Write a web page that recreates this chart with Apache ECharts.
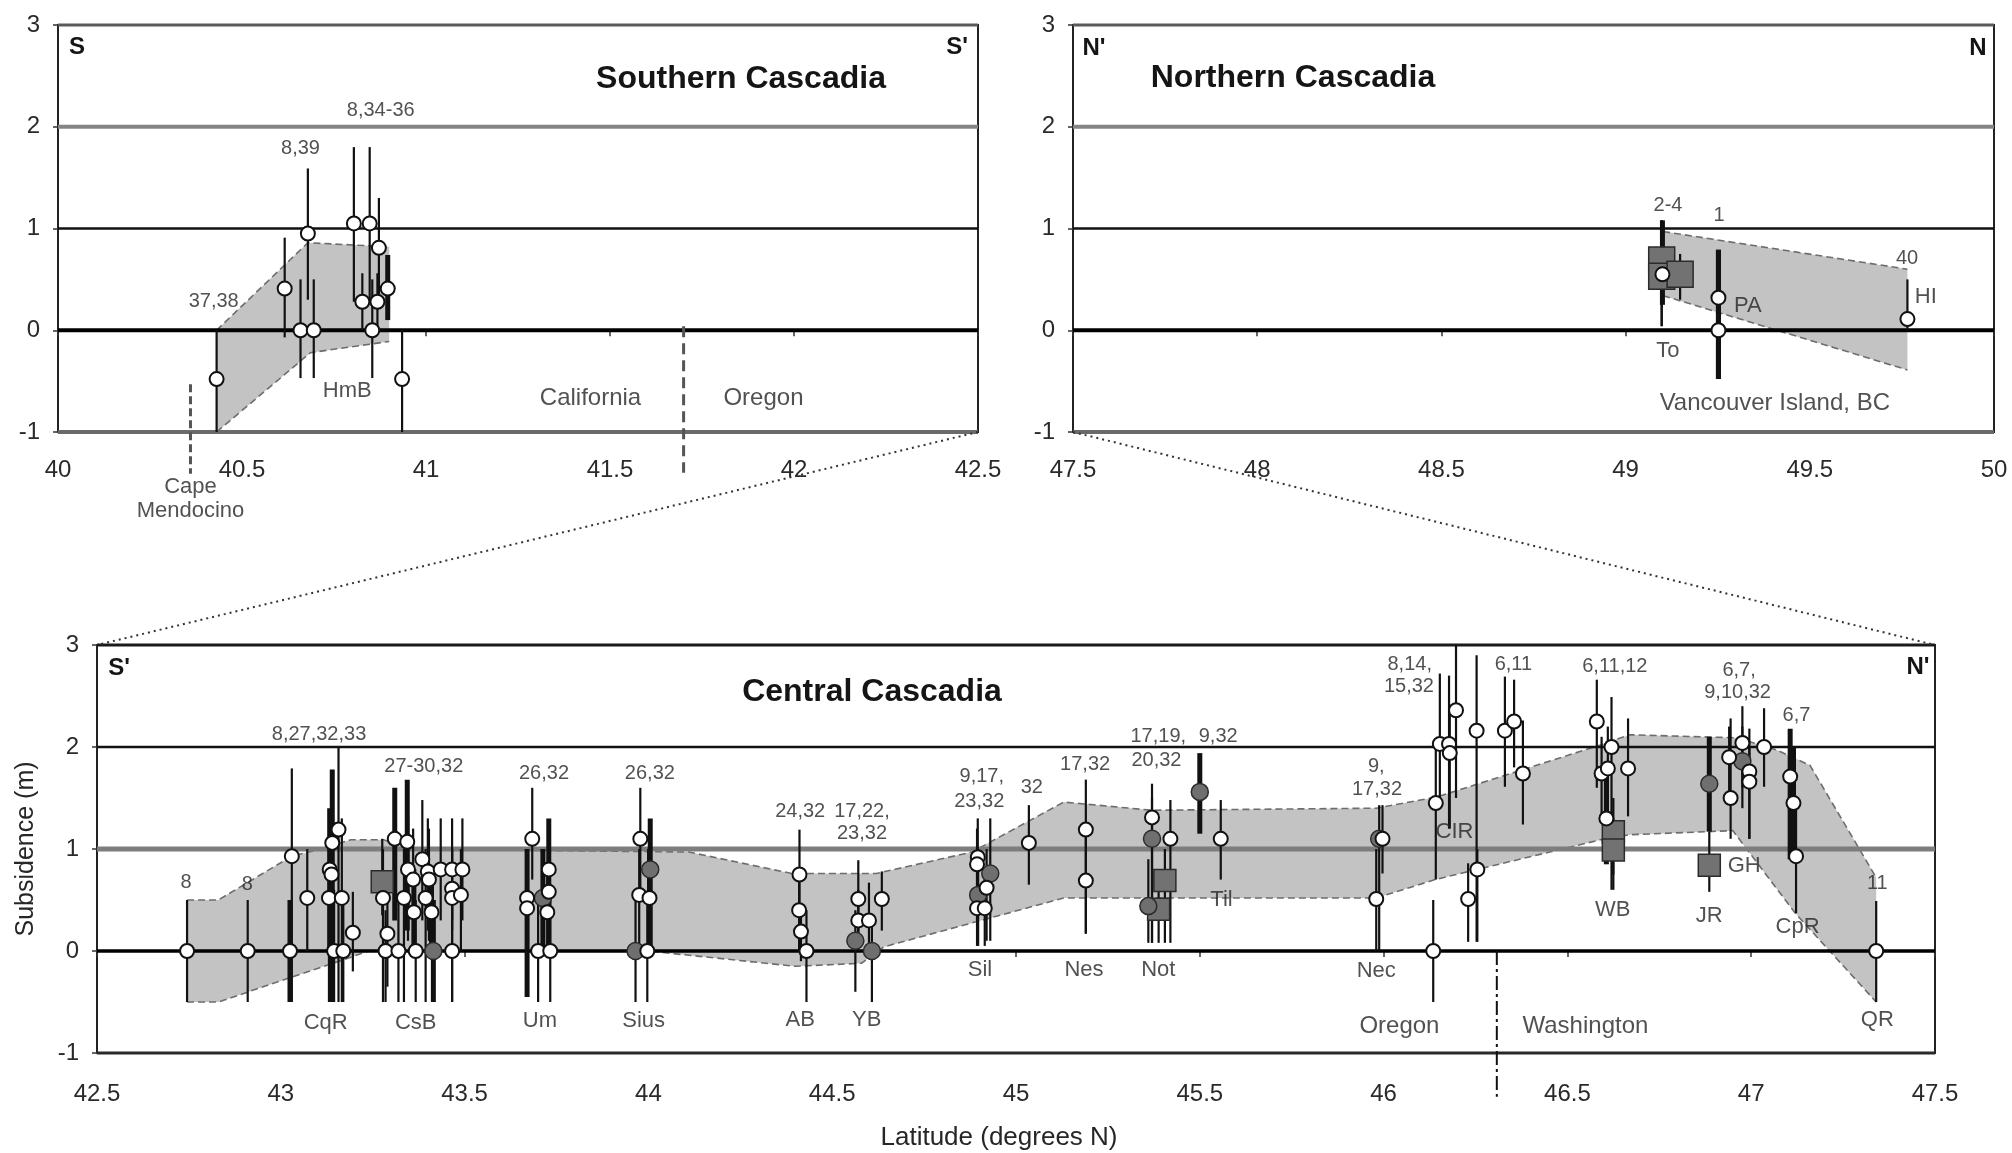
<!DOCTYPE html>
<html>
<head>
<meta charset="utf-8">
<title>Cascadia subsidence</title>
<script src="https://cdn.jsdelivr.net/npm/echarts@6/dist/echarts.min.js"></script>
<style>
  html, body { margin: 0; padding: 0; background: #fff; }
  #chart { width: 2012px; height: 1153px; }
</style>
</head>
<body>
<div id="chart"></div>
<script>
// ---------------- data ----------------
// Site estimates: [latitude, subsidence (m), low, high, marker, heavy bar]
// marker: 'o' open circle, 'g' grey circle, 's' grey square

// Southern Cascadia (S - S')
const southPoints = [
  [40.431, -0.48, -1.0, 0.0, 'o', 0],
  [40.616, 0.41, -0.07, 0.91, 'o', 0],
  [40.679, 0.95, 0.3, 1.59, 'o', 0],
  [40.659, 0.0, -0.47, 0.5, 'o', 0],
  [40.695, 0.0, -0.47, 0.5, 'o', 0],
  [40.804, 1.05, 0.28, 1.8, 'o', 0],
  [40.847, 1.05, 0.3, 1.8, 'o', 0],
  [40.872, 0.81, 0.3, 1.3, 'o', 0],
  [40.827, 0.28, 0.0, 0.56, 'o', 0],
  [40.868, 0.28, 0.0, 0.56, 'o', 0],
  [40.854, 0.0, -0.47, 0.5, 'o', 0],
  [40.896, 0.41, 0.1, 0.74, 'o', 1],
  [40.935, -0.48, -1.0, 0.0, 'o', 0]
];
const southUpper = [[40.431, 0.0], [40.679, 0.86], [40.9, 0.82]];
const southLower = [[40.431, -1.0], [40.686, -0.22], [40.9, -0.11]];
const southRefs = [['37,38', 40.423, 0.28], ['8,39', 40.659, 1.79], ['8,34-36', 40.877, 2.16]];
const southSites = [['HmB', 40.786, -0.60], ['Cape', 40.36, -1.54], ['Mendocino', 40.36, -1.78]];
const southPlaces = [['California', 41.447, -0.67], ['Oregon', 41.917, -0.67]];
// [latitude, top, bottom, kind]
const southMarks = [[41.70, 0.04, -1.40, 'state'], [40.36, -0.53, -1.41, 'cape']];

// Northern Cascadia (N' - N)
const northPoints = [
  [49.098, 0.69, 0.04, 1.08, 's', 0],
  [49.098, 0.53, 0.04, 1.08, 's', 0],
  [49.148, 0.55, 0.3, 0.75, 's', 0],
  [49.100, 0.55, 0.25, 1.08, 'o', 1],
  [49.252, 0.32, -0.48, 0.79, 'o', 1],
  [49.252, 0.0, -0.48, 0.79, 'o', 1],
  [49.765, 0.11, 0.0, 0.50, 'o', 0]
];
const northUpper = [[49.102, 0.97], [49.765, 0.60]];
const northLower = [[49.102, 0.34], [49.765, -0.39]];
const northRefs = [['2-4', 49.115, 1.23], ['1', 49.254, 1.13], ['40', 49.764, 0.71]];
const northSites = [['HI', 49.815, 0.33], ['PA', 49.332, 0.24], ['To', 49.115, -0.20]];
const northPlaces = [['Vancouver Island, BC', 49.405, -0.72]];
const northMarks = [];

// Central Cascadia (S' - N')
const centralPoints = [
  [42.745, 0.0, -0.5, 0.5, 'o', 0],
  [42.910, 0.0, -0.5, 0.5, 'o', 0],
  [43.030, 0.93, -0.5, 1.79, 'o', 0],
  [43.025, 0.0, -0.5, 0.5, 'o', 1],
  [43.072, 0.52, 0.0, 1.0, 'o', 0],
  // CqR
  [43.131, 0.52, -0.5, 1.0, 'o', 0],
  [43.133, 0.80, 0.0, 1.4, 'o', 1],
  [43.138, 0.75, 0.3, 1.2, 'o', 0],
  [43.140, 1.06, -0.5, 1.78, 'o', 1],
  [43.157, 1.19, -0.5, 2.0, 'o', 0],
  [43.166, 0.52, -0.5, 1.3, 'o', 0],
  [43.145, 0.0, -0.5, 0.6, 'o', 0],
  [43.170, 0.0, -0.5, 0.5, 'o', 0],
  [43.196, 0.18, -0.2, 0.58, 'o', 0],
  // CsB
  [43.276, 0.68, 0.35, 1.1, 's', 0],
  [43.278, 0.52, -0.5, 1.0, 'o', 0],
  [43.290, 0.17, -0.35, 0.5, 'o', 0],
  [43.285, 0.0, -0.5, 0.4, 'o', 0],
  [43.310, 1.10, 0.3, 1.6, 'o', 1],
  [43.320, 0.0, -0.5, 0.5, 'o', 0],
  [43.344, 1.07, 0.2, 1.68, 'o', 1],
  [43.346, 0.80, 0.1, 1.3, 'o', 0],
  [43.360, 0.70, 0.0, 1.2, 'o', 0],
  [43.335, 0.52, -0.5, 1.0, 'o', 0],
  [43.362, 0.38, 0.0, 0.8, 'o', 1],
  [43.367, 0.0, -0.5, 0.5, 'o', 0],
  [43.385, 0.90, 0.3, 1.48, 'o', 0],
  [43.400, 0.78, 0.2, 1.3, 'o', 0],
  [43.403, 0.70, 0.1, 1.2, 'o', 0],
  [43.394, 0.52, -0.5, 1.0, 'o', 0],
  [43.410, 0.38, 0.0, 0.8, 'o', 1],
  [43.415, 0.0, -0.5, 0.5, 'g', 1],
  [43.435, 0.80, 0.3, 1.3, 'o', 0],
  [43.466, 0.80, 0.3, 1.3, 'o', 0],
  [43.494, 0.80, 0.3, 1.3, 'o', 0],
  [43.466, 0.61, 0.2, 1.0, 'o', 0],
  [43.466, 0.52, -0.5, 1.0, 'o', 0],
  [43.466, 0.0, -0.5, 0.5, 'o', 0],
  [43.490, 0.55, 0.0, 1.0, 'o', 0],
  // Um
  [43.684, 1.10, 0.7, 1.6, 'o', 0],
  [43.670, 0.52, -0.45, 1.0, 'o', 1],
  [43.670, 0.42, -0.45, 1.0, 'o', 0],
  [43.729, 0.80, 0.0, 1.3, 'o', 1],
  [43.713, 0.52, 0.0, 1.0, 'g', 1],
  [43.729, 0.58, 0.0, 1.0, 'o', 0],
  [43.725, 0.38, 0.0, 0.8, 'o', 0],
  [43.700, 0.0, -0.5, 0.5, 'o', 0],
  [43.733, 0.0, -0.5, 0.5, 'o', 0],
  // Sius
  [43.978, 1.10, 0.5, 1.6, 'o', 0],
  [44.005, 0.80, 0.0, 1.3, 'g', 1],
  [43.975, 0.55, 0.0, 1.0, 'o', 0],
  [44.003, 0.52, 0.0, 1.0, 'o', 1],
  [43.965, 0.0, -0.5, 0.5, 'g', 0],
  [43.997, 0.0, -0.5, 0.5, 'o', 0],
  // AB
  [44.411, 0.75, 0.4, 1.19, 'o', 0],
  [44.410, 0.40, 0.0, 0.75, 'o', 0],
  [44.415, 0.19, -0.1, 0.4, 'o', 0],
  [44.430, 0.0, -0.5, 0.4, 'o', 0],
  // YB
  [44.571, 0.51, 0.1, 0.89, 'o', 0],
  [44.571, 0.30, 0.0, 0.6, 'o', 0],
  [44.563, 0.10, -0.4, 0.4, 'g', 0],
  [44.600, 0.30, 0.0, 0.67, 'o', 0],
  [44.608, 0.0, -0.5, 0.3, 'g', 0],
  [44.635, 0.51, 0.2, 0.78, 'o', 0],
  // Sil
  [44.896, 0.92, 0.4, 1.3, 'o', 0],
  [44.894, 0.85, 0.3, 1.2, 'o', 0],
  [44.930, 0.76, 0.1, 1.3, 'g', 0],
  [44.920, 0.62, 0.1, 1.0, 'o', 0],
  [44.897, 0.55, 0.05, 1.0, 'g', 0],
  [44.894, 0.42, 0.05, 0.8, 'o', 0],
  [44.915, 0.42, 0.05, 0.8, 'o', 0],
  [45.035, 1.06, 0.65, 1.43, 'o', 0],
  // Nes
  [45.190, 1.19, 0.17, 1.68, 'o', 0],
  [45.190, 0.69, 0.17, 1.2, 'o', 0],
  // Not
  [45.370, 1.31, 0.08, 1.64, 'o', 0],
  [45.370, 1.10, 0.08, 1.5, 'g', 0],
  [45.420, 1.10, 0.08, 1.48, 'o', 0],
  [45.405, 0.69, 0.08, 1.0, 's', 0],
  [45.388, 0.41, 0.08, 0.8, 's', 0],
  [45.360, 0.44, 0.08, 0.9, 'g', 0],
  [45.500, 1.56, 1.15, 1.94, 'g', 1],
  // Til
  [45.557, 1.10, 0.70, 1.48, 'o', 0],
  // Nec
  [45.997, 1.10, 0.76, 1.43, 'o', 0],
  [45.988, 1.10, 0.0, 1.43, 'g', 0],
  [45.980, 0.51, 0.0, 1.0, 'o', 0],
  [46.135, 0.0, -0.5, 0.5, 'o', 0],
  [46.142, 1.45, 0.7, 2.03, 'o', 0],
  // CIR
  [46.153, 2.03, 1.45, 2.72, 'o', 0],
  [46.178, 2.03, 1.2, 2.7, 'o', 0],
  [46.180, 1.94, 1.2, 2.4, 'o', 0],
  [46.197, 2.36, 1.5, 3.0, 'o', 0],
  [46.253, 2.16, 0.09, 2.9, 'o', 0],
  [46.255, 0.80, 0.09, 1.0, 'o', 0],
  [46.230, 0.51, 0.09, 0.86, 'o', 0],
  [46.330, 2.16, 1.61, 2.69, 'o', 0],
  [46.355, 2.25, 1.8, 2.66, 'o', 0],
  [46.379, 1.74, 1.24, 2.26, 'o', 0],
  // WB
  [46.580, 2.25, 1.6, 2.66, 'o', 0],
  [46.620, 2.00, 0.6, 2.49, 'o', 0],
  [46.593, 1.74, 1.3, 2.1, 'o', 0],
  [46.610, 1.79, 1.3, 2.2, 'o', 0],
  [46.665, 1.79, 1.32, 2.28, 'o', 0],
  [46.606, 1.30, 0.85, 1.84, 'o', 1],
  [46.625, 1.17, 0.75, 1.5, 's', 0],
  [46.625, 0.99, 0.6, 1.3, 's', 0],
  // JR
  [46.886, 1.64, 1.17, 2.1, 'g', 1],
  [46.886, 0.84, 0.58, 1.17, 's', 0],
  // GH
  [46.944, 1.50, 1.10, 2.28, 'o', 0],
  [46.940, 1.90, 1.5, 2.2, 'o', 0],
  [46.976, 2.04, 1.6, 2.4, 'o', 0],
  [46.976, 1.86, 1.4, 2.2, 'g', 0],
  [46.995, 1.76, 1.1, 2.18, 'o', 0],
  [46.995, 1.66, 1.1, 2.0, 'o', 0],
  [47.035, 2.00, 1.61, 2.38, 'o', 0],
  // CpR
  [47.106, 1.71, 0.9, 2.18, 'o', 1],
  [47.115, 1.45, 0.9, 2.0, 'o', 1],
  [47.122, 0.93, 0.37, 1.4, 'o', 0],
  // QR
  [47.340, 0.0, -0.5, 0.49, 'o', 0]
];
const centralUpper = [
  [42.745, 0.5], [42.83, 0.5], [43.03, 0.93], [43.11, 1.0], [43.19, 1.09], [43.28, 1.09],
  [43.35, 1.0], [44.11, 0.97], [44.39, 0.76], [44.62, 0.76], [44.88, 0.97], [45.13, 1.46],
  [45.37, 1.38], [45.98, 1.40], [46.145, 1.51], [46.59, 2.02], [46.67, 2.12], [46.96, 2.09],
  [47.07, 1.97], [47.16, 1.82], [47.34, 0.72]
];
const centralLower = [
  [42.745, -0.5], [42.83, -0.5], [43.24, 0.0], [44.0, 0.0], [44.40, -0.15], [44.58, -0.12],
  [44.64, 0.04], [45.13, 0.52], [45.98, 0.52], [46.14, 0.70], [46.59, 1.09], [46.67, 1.14],
  [46.95, 1.18], [47.12, 0.37], [47.34, -0.5]
];
const centralRefs = [
  ['8', 42.742, 0.67], ['8', 42.909, 0.65], ['8,27,32,33', 43.104, 2.12], ['27-30,32', 43.389, 1.81],
  ['26,32', 43.716, 1.74], ['26,32', 44.004, 1.74], ['24,32', 44.413, 1.37], ['17,22,', 44.581, 1.37],
  ['23,32', 44.581, 1.15], ['9,17,', 44.907, 1.71], ['23,32', 44.90, 1.47], ['32', 45.043, 1.60],
  ['17,32', 45.188, 1.83], ['17,19,', 45.387, 2.10], ['20,32', 45.382, 1.87], ['9,32', 45.55, 2.10],
  ['9,', 45.98, 1.81], ['17,32', 45.982, 1.58], ['8,14,', 46.071, 2.81], ['15,32', 46.069, 2.59],
  ['6,11', 46.353, 2.81], ['6,11,12', 46.629, 2.79], ['6,7,', 46.967, 2.75], ['9,10,32', 46.963, 2.53],
  ['6,7', 47.123, 2.31], ['11', 47.343, 0.66]
];
const centralSites = [
  ['CqR', 43.122, -0.71], ['CsB', 43.367, -0.71], ['Um', 43.705, -0.69], ['Sius', 43.987, -0.69],
  ['AB', 44.413, -0.68], ['YB', 44.594, -0.68], ['Sil', 44.902, -0.19], ['Nes', 45.185, -0.19],
  ['Not', 45.387, -0.19], ['Til', 45.559, 0.5], ['CIR', 46.193, 1.17], ['Nec', 45.98, -0.20],
  ['WB', 46.623, 0.40], ['JR', 46.886, 0.34], ['GH', 46.981, 0.83], ['CpR', 47.126, 0.24],
  ['QR', 47.343, -0.68]
];
const centralPlaces = [['Oregon', 46.043, -0.74], ['Washington', 46.549, -0.74]];
const centralMarks = [[46.308, 0.0, -1.43, 'stateWA']];

// axis ranges and ticks
const southLat = [40, 42.5];
const northLat = [47.5, 50];
const centralLat = [42.5, 47.5];
const latStep = 0.5;
const subsidenceRange = [-1, 3];
const subsidenceLevels = [3, 2, 1, 0, -1];

// ---------------- styles ----------------
const FONT = '"Liberation Sans", Arial, Helvetica, sans-serif';
const TEXT = '#262626';
const GRIDS = [
  { left: 58, top: 25, width: 920, height: 407 },
  { left: 1073, top: 25, width: 921, height: 407 },
  { left: 97, top: 645, width: 1838, height: 408 }
];
// horizontal rules per panel, top to bottom: [colour, width]
const TOP_RULES = [['#5a5a5a', 3], ['#858585', 4], ['#111', 2.5], ['#000', 4], ['#6a6a6a', 4]];
const CENTRAL_RULES = [['#1a1a1a', 3], ['#111', 2.5], ['#7d7d7d', 5], ['#000', 3.5], ['#2a2a2a', 3]];
const MARK_STYLE = {
  state: { color: '#555', width: 3, type: [11, 6] },
  cape: { color: '#555', width: 3, type: [8, 4] },
  stateWA: { color: '#111', width: 2, type: [14, 4, 3, 4] }
};

function panel(g, pts, upper, lower, xr, rules, refs, sites, places, marks) {
  const series = [];
  // envelope band
  series.push({
    type: 'custom', xAxisIndex: g, yAxisIndex: g, z: 1, silent: true,
    data: [upper[0]],
    renderItem: function (params, api) {
      const top = upper.map(p => api.coord(p));
      const bot = lower.map(p => api.coord(p));
      const edge = { stroke: '#6d6d6d', lineWidth: 1.6, lineDash: [7, 4], fill: null };
      return {
        type: 'group', children: [
          { type: 'polygon', shape: { points: top.concat(bot.slice().reverse()) }, style: { fill: '#c3c3c3' } },
          { type: 'polyline', shape: { points: top }, style: edge },
          { type: 'polyline', shape: { points: bot }, style: edge }
        ]
      };
    }
  });
  // horizontal rules
  series.push({
    type: 'custom', xAxisIndex: g, yAxisIndex: g, z: 2, silent: true,
    data: subsidenceLevels.map(v => [xr[0], v]),
    renderItem: function (params, api) {
      const y = api.value(1);
      const a = api.coord([xr[0], y]);
      const b = api.coord([xr[1], y]);
      const r = rules[params.dataIndex];
      return { type: 'line', shape: { x1: a[0], y1: a[1], x2: b[0], y2: b[1] }, style: { stroke: r[0], lineWidth: r[1] } };
    }
  });
  // error bars
  series.push({
    type: 'custom', xAxisIndex: g, yAxisIndex: g, z: 3, silent: true,
    data: pts.map(p => [p[0], p[2], p[3], p[5]]),
    encode: { x: 0, y: [1, 2] },
    renderItem: function (params, api) {
      const a = api.coord([api.value(0), api.value(1)]);
      const b = api.coord([api.value(0), api.value(2)]);
      return {
        type: 'line', shape: { x1: a[0], y1: a[1], x2: b[0], y2: b[1] },
        style: { stroke: '#111', lineWidth: api.value(3) ? 5 : 2.2 }
      };
    }
  });
  // boundary marks (state lines, cape)
  marks.forEach(m => {
    const s = MARK_STYLE[m[3]];
    series.push({
      type: 'line', xAxisIndex: g, yAxisIndex: g, z: 2, clip: false, silent: true,
      symbol: 'none', data: [[m[0], m[1]], [m[0], m[2]]],
      lineStyle: { color: s.color, width: s.width, type: s.type }
    });
  });
  // markers
  const sqSize = g === 1 ? 26 : 22;
  series.push({
    type: 'scatter', xAxisIndex: g, yAxisIndex: g, z: 4, silent: true,
    symbol: 'rect', symbolSize: sqSize,
    data: pts.filter(p => p[4] === 's').map(p => [p[0], p[1]]),
    itemStyle: { color: '#727272', borderColor: '#2b2b2b', borderWidth: 1.5, opacity: 1 }
  });
  series.push({
    type: 'scatter', xAxisIndex: g, yAxisIndex: g, z: 4, silent: true,
    symbol: 'circle', symbolSize: 17,
    data: pts.filter(p => p[4] === 'g').map(p => [p[0], p[1]]),
    itemStyle: { color: '#6f6f6f', borderColor: '#2b2b2b', borderWidth: 1.5, opacity: 1 }
  });
  series.push({
    type: 'scatter', xAxisIndex: g, yAxisIndex: g, z: 4, silent: true,
    symbol: 'circle', symbolSize: 14,
    data: pts.filter(p => p[4] === 'o').map(p => [p[0], p[1]]),
    itemStyle: { color: '#ffffff', borderColor: '#111', borderWidth: 2, opacity: 1 }
  });
  // text annotations
  const textSeries = (list, size) => ({
    type: 'scatter', xAxisIndex: g, yAxisIndex: g, z: 5, silent: true, clip: false,
    symbolSize: 0,
    data: list.map(t => ({ name: t[0], value: [t[1], t[2]] })),
    label: {
      show: true, position: 'inside', formatter: '{b}',
      fontFamily: FONT, fontSize: size, color: TEXT
    }
  });
  series.push(textSeries(refs, 20));
  series.push(textSeries(sites, 22));
  series.push(textSeries(places, 24));
  return series;
}

const xAxes = [southLat, northLat, centralLat].map((r, i) => ({
  type: 'value', gridIndex: i, min: r[0], max: r[1], interval: latStep,
  axisLine: { show: true, lineStyle: { color: '#222', width: 2 } },
  axisTick: { show: true, length: 6, lineStyle: { color: '#333', width: 1.5 } },
  axisLabel: { fontFamily: FONT, fontSize: 24, color: '#2a2a2a', margin: i === 2 ? 29 : 26, formatter: v => String(v) },
  splitLine: { show: false },
  name: i === 2 ? 'Latitude (degrees N)' : '',
  nameLocation: 'middle', nameGap: 72,
  nameTextStyle: { fontFamily: FONT, fontSize: 26, color: TEXT, padding: [0, 34, 0, 0] }
}));
const yAxes = [0, 1, 2].map(i => ({
  type: 'value', gridIndex: i, min: subsidenceRange[0], max: subsidenceRange[1], interval: 1,
  axisLine: { show: true, lineStyle: { color: '#222', width: 2 } },
  axisTick: { show: true, length: 5, lineStyle: { color: '#333', width: 1.5 } },
  axisLabel: { fontFamily: FONT, fontSize: 24, color: '#2a2a2a', margin: 18 },
  splitLine: { show: false },
  name: i === 2 ? 'Subsidence (m)' : '',
  nameLocation: 'middle', nameGap: 58,
  nameTextStyle: { fontFamily: FONT, fontSize: 25, color: TEXT }
}));

const chart = echarts.init(document.getElementById('chart'), null, { renderer: 'canvas' });
chart.setOption({
  animation: false,
  backgroundColor: '#ffffff',
  grid: GRIDS.map(g => Object.assign({
    show: true, borderColor: '#222', borderWidth: 2, backgroundColor: 'transparent',
    containLabel: false, outerBoundsMode: 'none'
  }, g)),
  xAxis: xAxes,
  yAxis: yAxes,
  series: [].concat(
    panel(0, southPoints, southUpper, southLower, southLat, TOP_RULES, southRefs, southSites, southPlaces, southMarks),
    panel(1, northPoints, northUpper, northLower, northLat, TOP_RULES, northRefs, northSites, northPlaces, northMarks),
    panel(2, centralPoints, centralUpper, centralLower, centralLat, CENTRAL_RULES, centralRefs, centralSites, centralPlaces, centralMarks)
  )
});

// titles, corner letters and the dotted leaders joining the panels
const px = (g, v) => chart.convertToPixel({ gridIndex: g }, v);
const a = px(0, [southLat[1], subsidenceRange[0]]);
const b = px(2, [centralLat[0], subsidenceRange[1]]);
const c = px(1, [northLat[0], subsidenceRange[0]]);
const d = px(2, [centralLat[1], subsidenceRange[1]]);
const title = (text, x, y) => ({
  type: 'text', x: x, y: y, z: 10,
  style: { text: text, font: 'bold 32px ' + FONT, fill: '#151515', textAlign: 'center', textVerticalAlign: 'middle' }
});
const corner = (text, x, y) => ({
  type: 'text', x: x, y: y, z: 10,
  style: { text: text, font: 'bold 24px ' + FONT, fill: '#151515', textAlign: 'center', textVerticalAlign: 'middle' }
});
const leader = (p, q) => ({
  type: 'line', z: 10, silent: true,
  shape: { x1: p[0], y1: p[1], x2: q[0], y2: q[1] },
  style: { stroke: '#333', lineWidth: 2, lineDash: [2, 4] }
});
chart.setOption({
  graphic: [
    title('Southern Cascadia', GRIDS[0].left + 683, GRIDS[0].top + 54),
    title('Northern Cascadia', GRIDS[1].left + 220, GRIDS[1].top + 53),
    title('Central Cascadia', GRIDS[2].left + 775, GRIDS[2].top + 47),
    corner('S', GRIDS[0].left + 19, GRIDS[0].top + 22),
    corner("S'", GRIDS[0].left + GRIDS[0].width - 21, GRIDS[0].top + 22),
    corner("N'", GRIDS[1].left + 21, GRIDS[1].top + 23),
    corner('N', GRIDS[1].left + GRIDS[1].width - 16, GRIDS[1].top + 23),
    corner("S'", GRIDS[2].left + 22, GRIDS[2].top + 23),
    corner("N'", GRIDS[2].left + GRIDS[2].width - 17, GRIDS[2].top + 22),
    leader(a, b),
    leader(c, d)
  ]
});
</script>
</body>
</html>
